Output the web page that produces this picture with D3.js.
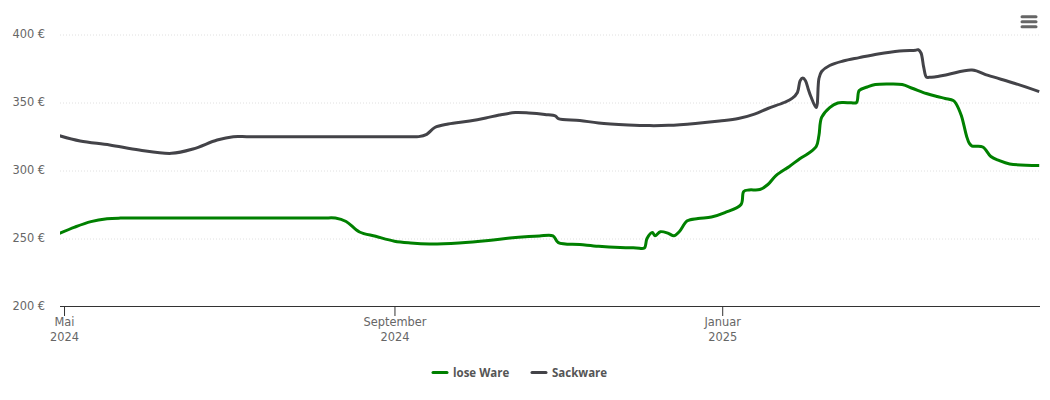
<!DOCTYPE html>
<html>
<head>
<meta charset="utf-8">
<script src="https://cdn.jsdelivr.net/npm/d3@7"></script>
<style>
  html, body { margin: 0; padding: 0; background: #fff; }
  text { font-family: "DejaVu Sans", sans-serif; }
</style>
</head>
<body>
<div id="chart"></div>
<script>
// Values
const yTicks = [200, 250, 300, 350, 400];
const xTicks = ["2024-05-01", "2024-09-01", "2025-01-01"];
const xTickLabels = [["Mai", "2024"], ["September", "2024"], ["Januar", "2025"]];
const seriesNames = ["lose Ware", "Sackware"];

const looseDates = ["2024-04-29","2024-05-05","2024-05-11","2024-05-17","2024-05-22","2024-05-28","2024-06-02","2024-08-05","2024-08-10","2024-08-14","2024-08-19","2024-08-25","2024-09-01","2024-09-07","2024-09-14","2024-09-25","2024-10-06","2024-10-14","2024-10-21","2024-10-25","2024-10-30","2024-11-01","2024-11-09","2024-11-16","2024-11-24","2024-11-30","2024-12-03","2024-12-04","2024-12-06","2024-12-07","2024-12-09","2024-12-12","2024-12-14","2024-12-16","2024-12-19","2024-12-23","2024-12-28","2025-01-02","2025-01-08","2025-01-09","2025-01-11","2025-01-15","2025-01-18","2025-01-21","2025-01-26","2025-01-30","2025-02-02","2025-02-05","2025-02-06","2025-02-07","2025-02-10","2025-02-13","2025-02-15","2025-02-18","2025-02-20","2025-02-21","2025-02-24","2025-02-27","2025-03-04","2025-03-09","2025-03-13","2025-03-18","2025-03-22","2025-03-25","2025-03-28","2025-03-29","2025-03-31","2025-04-01","2025-04-02","2025-04-03","2025-04-04","2025-04-08","2025-04-11","2025-04-14","2025-04-18","2025-04-29"];
const looseValues = [253.5,258.4,262.4,264.5,265,265,265,265,265,262.5,254.8,251.6,248,246.7,246,246.7,248.5,250.4,251.5,251.9,252,247,245.6,244.3,243.4,243.1,243,250,254.4,252,255,253.7,252,255,263,264.7,265.8,269,275,284.6,285.7,286,289.7,296.3,303,308.8,312.5,317.6,325.7,339,346.3,349.6,350,349.8,350,358.8,361.4,363.2,363.6,363.2,360.3,356.6,354.4,353,351.5,349.3,340.4,333,325,319.9,318,317.3,310.3,307.4,304.8,303.7];

const bagDates = ["2024-04-29","2024-05-07","2024-05-18","2024-05-29","2024-06-10","2024-06-18","2024-06-27","2024-07-03","2024-07-08","2024-07-13","2024-09-05","2024-09-10","2024-09-13","2024-09-16","2024-09-21","2024-09-29","2024-10-05","2024-10-10","2024-10-16","2024-10-21","2024-10-27","2024-10-31","2024-11-01","2024-11-09","2024-11-16","2024-11-27","2024-12-05","2024-12-12","2024-12-22","2024-12-31","2025-01-07","2025-01-13","2025-01-18","2025-01-24","2025-01-27","2025-01-29","2025-01-30","2025-01-31","2025-02-01","2025-02-02","2025-02-03","2025-02-05","2025-02-06","2025-02-07","2025-02-10","2025-02-15","2025-02-21","2025-02-28","2025-03-08","2025-03-14","2025-03-15","2025-03-16","2025-03-17","2025-03-18","2025-03-19","2025-03-21","2025-03-26","2025-04-04","2025-04-10","2025-04-20","2025-04-29"];
const bagValues = [325.7,321.7,318.8,315,312.6,315.8,322.4,324.9,324.9,324.9,324.9,324.9,326.6,331.6,334.2,336.4,338.6,340.8,342.6,342.3,341.2,340,338.2,336.8,334.9,333.5,333,333.2,334.6,336.4,338.2,341.5,345.6,350,353,357.4,366,368,366,360,354.4,346.3,367.6,372.8,377.2,380.5,383,385.7,387.9,388.5,388.8,386.4,376,368.7,368.5,368.8,370.6,373.9,369.9,364,358];

const width = 1050;
const height = 400;
const plot = {left: 60, right: 1040, top: 34.5, bottom: 306.5};
const colors = ["#008000", "#434348"];

const parseDay = d3.utcParse("%Y-%m-%d");

const svg = d3.select("#chart")
    .append("svg")
    .attr("width", width)
    .attr("height", height)
    .style("display", "block");

const xScale = d3.scaleUtc()
    .domain([parseDay("2024-04-29").getTime() + 12 * 36e5, parseDay("2025-04-29").getTime() + 7 * 36e5])
    .range([plot.left, plot.right]);

const yScale = d3.scaleLinear()
    .domain([200, 400])
    .range([plot.bottom, plot.top]);

svg.append("clipPath")
    .attr("id", "plot-clip")
    .append("rect")
    .attr("x", plot.left)
    .attr("y", 0)
    .attr("width", plot.right - plot.left)
    .attr("height", height);

// Y axis with dotted grid lines
const yAxis = svg.append("g")
    .attr("transform", `translate(${plot.left},0)`)
    .call(d3.axisLeft(yScale)
        .tickValues(yTicks)
        .tickSize(0)
        .tickPadding(15)
        .tickFormat(d => d + " €"));
yAxis.select(".domain").remove();
yAxis.selectAll("text")
    .attr("y", -0.7)
    .attr("fill", "#666")
    .style("font-size", "11.4px");
yAxis.selectAll(".tick").filter(d => d > 200)
    .append("line")
    .attr("x1", 0)
    .attr("x2", plot.right - plot.left)
    .attr("stroke", "#e0e0e0")
    .attr("stroke-dasharray", "1,2");

// X axis
const xAxis = svg.append("g")
    .attr("transform", `translate(0,${plot.bottom - 0.5})`)
    .call(d3.axisBottom(xScale)
        .tickValues(xTicks.map(parseDay))
        .tickSize(10)
        .tickPadding(1)
        .tickFormat(""));
xAxis.select(".domain")
    .attr("stroke", "#333")
    .attr("d", `M${plot.left},0.5H${plot.right}`);
xAxis.selectAll(".tick line").attr("stroke", "#333");
xAxis.selectAll(".tick text")
    .attr("fill", "#666")
    .style("font-size", "11.4px")
    .each(function(d, i) {
        const label = d3.select(this).text(null);
        xTickLabels[i].forEach((part, j) => {
            label.append("tspan")
                .attr("x", 0)
                .attr("y", 20 + j * 15)
                .attr("dy", 0)
                .text(part);
        });
    });

// Lines
const line = d3.line()
    .x(d => xScale(d.date))
    .y(d => yScale(d.value))
    .curve(d3.curveCatmullRom.alpha(0.5));

const toPoints = (dates, values) => dates.map((d, i) => ({date: parseDay(d), value: values[i]}));
const allSeries = [toPoints(looseDates, looseValues), toPoints(bagDates, bagValues)];

[1, 0].forEach(i => {
    svg.append("path")
        .datum(allSeries[i])
        .attr("clip-path", "url(#plot-clip)")
        .attr("fill", "none")
        .attr("stroke", colors[i])
        .attr("stroke-width", 3)
        .attr("stroke-linejoin", "round")
        .attr("d", line);
});

// Legend
const legendX = [433, 532];
seriesNames.forEach((name, i) => {
    const item = svg.append("g")
        .attr("transform", `translate(${legendX[i]},372.5)`);
    item.append("line")
        .attr("x1", 0)
        .attr("x2", 14)
        .attr("stroke", colors[i])
        .attr("stroke-width", 3)
        .attr("stroke-linecap", "round");
    item.append("text")
        .attr("x", 20)
        .attr("y", 4)
        .attr("fill", "#555")
        .style("font-family", "'Open Sans', sans-serif")
        .style("font-size", "11.5px")
        .style("font-weight", "bold")
        .text(name);
});

// Menu icon
[16.7, 21.7, 26.7].forEach(y => {
    svg.append("line")
        .attr("x1", 1022)
        .attr("x2", 1036)
        .attr("y1", y)
        .attr("y2", y)
        .attr("stroke", "#666")
        .attr("stroke-width", 3)
        .attr("stroke-linecap", "round");
});
</script>
</body>
</html>
